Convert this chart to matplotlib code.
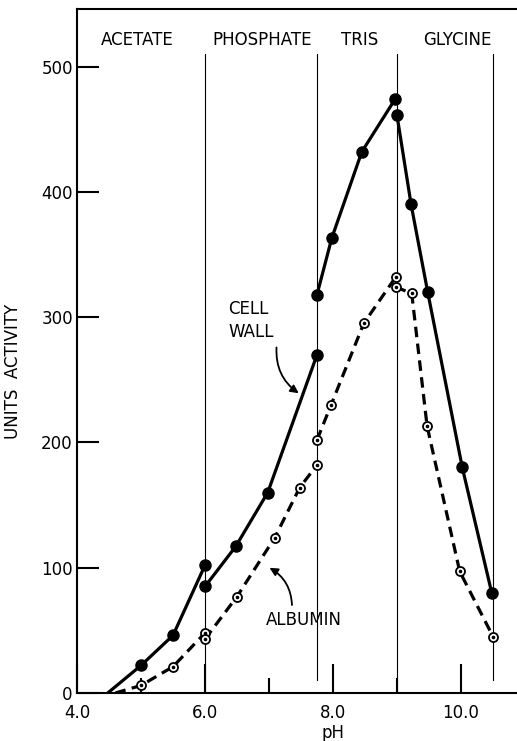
import numpy as np
import matplotlib
matplotlib.use("Agg")
import matplotlib.pyplot as plt
from matplotlib.ticker import MultipleLocator

plt.rcParams["font.family"] = ["DejaVu Sans"]

# Cell wall activity (filled circles, solid line), one run per buffer
cw_acetate_ph = [5.0, 5.5, 6.0]
cw_acetate_act = [22, 46, 102]
cw_acetate_start = (4.48, 0)
cw_phosphate_ph = [6.0, 6.48, 6.98, 7.75]
cw_phosphate_act = [85, 117, 160, 270]
cw_tris_ph = [7.75, 7.98, 8.45, 8.97]
cw_tris_act = [318, 363, 432, 474]
cw_glycine_ph = [9.0, 9.22, 9.48, 10.02, 10.48]
cw_glycine_act = [461, 390, 320, 180, 80]

# Albumin activity (open dotted circles, dashed line)
alb_acetate_ph = [5.0, 5.5, 6.0]
alb_acetate_act = [6, 21, 48]
alb_acetate_start = (4.6, 0)
alb_phosphate_ph = [6.0, 6.5, 7.09, 7.48, 7.75]
alb_phosphate_act = [43, 77, 124, 164, 182]
alb_tris_ph = [7.75, 7.97, 8.48, 8.98]
alb_tris_act = [202, 230, 295, 332]
alb_glycine_ph = [8.98, 9.23, 9.47, 9.98, 10.5]
alb_glycine_act = [324, 319, 213, 97, 45]

# Buffer ranges
buffer_names = ["ACETATE", "PHOSPHATE", "TRIS", "GLYCINE"]
buffer_label_ph = [4.94, 6.89, 8.42, 9.94]
boundary_ph = [6.0, 7.75, 9.0, 10.5]
boundary_bottom = [0, 10, 0, 10]

fig = plt.figure(figsize=(5.17, 7.41), dpi=100)
ax = fig.add_axes([0.149, 0.0648, 0.851, 0.9231])

for x, b in zip(boundary_ph, boundary_bottom):
    ax.plot([x, x], [b, 510], color="black", lw=0.8, zorder=1)

for name, x in zip(buffer_names, buffer_label_ph):
    ax.text(x, 521, name, ha="center", va="center", fontsize=12)

solid = dict(color="black", lw=2.3, solid_capstyle="round", zorder=3)
fill_mk = dict(ls="none", marker="o", ms=8, mfc="black", mec="black", zorder=5)

segs_cw = [
    ([cw_acetate_start[0]] + cw_acetate_ph, [cw_acetate_start[1]] + cw_acetate_act),
    (cw_phosphate_ph, cw_phosphate_act),
    (cw_tris_ph, cw_tris_act),
    (cw_glycine_ph, cw_glycine_act),
]
for xs, ys in segs_cw:
    ax.plot(xs, ys, **solid)
for xs, ys in [(cw_acetate_ph, cw_acetate_act), (cw_phosphate_ph, cw_phosphate_act),
               (cw_tris_ph, cw_tris_act), (cw_glycine_ph, cw_glycine_act)]:
    ax.plot(xs, ys, **fill_mk)

dashed = dict(color="black", lw=2.3, ls=(0, (3.3, 2.0)), zorder=3)
segs_alb = [
    ([alb_acetate_start[0]] + alb_acetate_ph, [alb_acetate_start[1]] + alb_acetate_act),
    (alb_phosphate_ph, alb_phosphate_act),
    (alb_tris_ph, alb_tris_act),
    (alb_glycine_ph, alb_glycine_act),
]
for xs, ys in segs_alb:
    ax.plot(xs, ys, **dashed)
for xs, ys in [(alb_acetate_ph, alb_acetate_act), (alb_phosphate_ph, alb_phosphate_act),
               (alb_tris_ph, alb_tris_act), (alb_glycine_ph, alb_glycine_act)]:
    ax.plot(xs, ys, ls="none", marker="o", ms=6.5, mfc="white", mec="black",
            mew=1.3, zorder=5)
    ax.plot(xs, ys, ls="none", marker="o", ms=1.6, mfc="black", mec="black", zorder=6)

# annotations
ax.text(6.36, 297, "CELL\nWALL", ha="left", va="center", fontsize=12,
        linespacing=1.35)
ax.annotate("", xy=(7.5, 238), xytext=(7.12, 278),
            arrowprops=dict(arrowstyle="-|>", color="black", lw=1.3,
                            connectionstyle="arc3,rad=0.3", mutation_scale=12))
ax.text(6.95, 58, "ALBUMIN", ha="left", va="center", fontsize=12)
ax.annotate("", xy=(6.97, 101), xytext=(7.36, 68),
            arrowprops=dict(arrowstyle="-|>", color="black", lw=1.3,
                            connectionstyle="arc3,rad=0.3", mutation_scale=12))

ax.set_xlim(4.0, 10.875)
ax.set_ylim(0, 546)
ax.xaxis.set_minor_locator(MultipleLocator(1.0))
ax.yaxis.set_major_locator(MultipleLocator(100))
ax.set_xticks([4, 6, 8, 10])
ax.set_xticklabels(["4.0", "6.0", "8.0", "10.0"])
ax.tick_params(axis="x", which="major", direction="in", length=21, width=1.5,
               labelsize=12, pad=8)
ax.tick_params(axis="x", which="minor", direction="in", length=11, width=1.5)
ax.tick_params(axis="y", which="major", direction="in", length=16, width=1.5,
               labelsize=12, pad=3)
ax.spines["right"].set_visible(False)
for s in ["left", "bottom", "top"]:
    ax.spines[s].set_linewidth(1.5)

ax.set_xlabel("pH", fontsize=12)
ax.xaxis.set_label_coords((8.0 - 4.0) / 6.875, -0.045)
ax.set_ylabel("UNITS  ACTIVITY", fontsize=12)
ax.yaxis.set_label_coords(-0.125, 0.47)

fig.savefig("out.png", dpi=100)
